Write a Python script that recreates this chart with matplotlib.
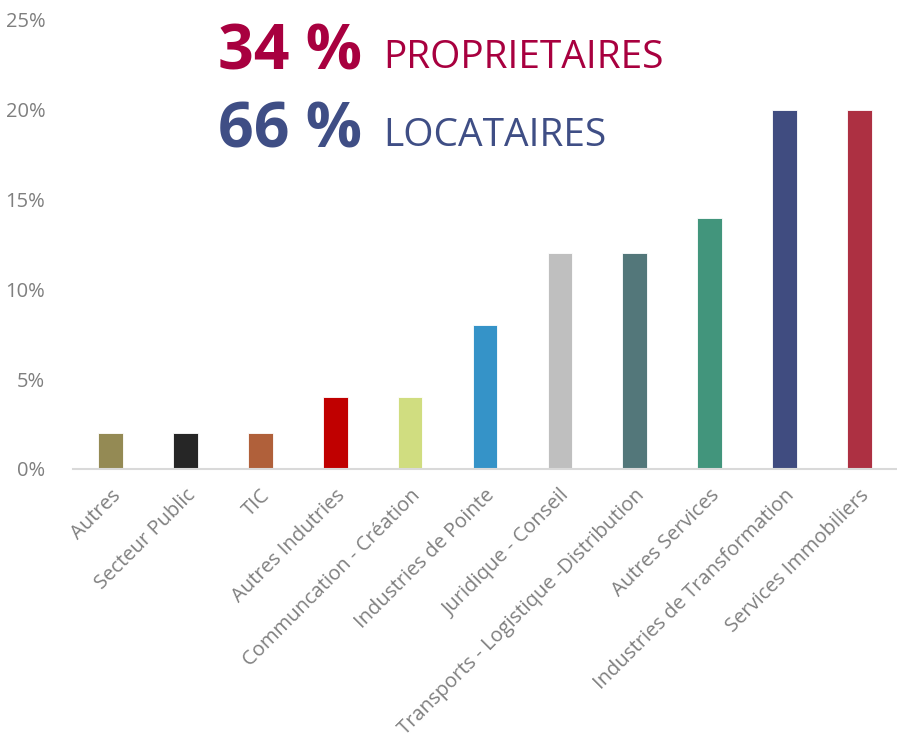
import matplotlib
matplotlib.use("Agg")
import matplotlib.pyplot as plt
from matplotlib.ticker import FuncFormatter, MultipleLocator

categories = ["Autres", "Secteur Public", "TIC", "Autres Indutries",
              "Communcation - Création", "Industries de Pointe",
              "Juridique - Conseil", "Transports - Logistique -Distribution",
              "Autres Services", "Industries de Transformation",
              "Services Immobiliers"]
values = [0.02, 0.02, 0.02, 0.04, 0.04, 0.08, 0.12, 0.12, 0.14, 0.20, 0.20]
colors = ["#948A54", "#262626", "#B0603A", "#C00000", "#D0DD80", "#3593C8",
          "#BFBFBF", "#53777A", "#42957C", "#404C80", "#AD3042"]

plt.rcParams['font.family'] = ['Open Sans', 'DejaVu Sans']

fig = plt.figure(figsize=(8.97, 7.49), dpi=100)
ax = fig.add_axes([73/897, 1 - 469/749, (897 - 73)/897, (469 - 20)/749])

x = list(range(len(categories)))
ax.bar(x, values, width=0.33, color=colors, edgecolor="white", linewidth=0.6)
ax.set_xlim(-0.5, len(categories) - 0.5)
ax.set_ylim(0, 0.25)
ax.yaxis.set_major_locator(MultipleLocator(0.05))
ax.yaxis.set_major_formatter(FuncFormatter(lambda v, p: f"{v*100:.0f}%"))
for s in ["top", "right", "left"]:
    ax.spines[s].set_visible(False)
ax.spines["bottom"].set_color("#D9D9D9")
ax.spines["bottom"].set_linewidth(1.5)
ax.tick_params(axis="y", length=0, colors="#7F7F7F", labelsize=14.5, pad=20)
ax.tick_params(axis="x", length=0, colors="#7F7F7F", labelsize=14.5, pad=12)
ax.set_xticks(x)
ax.set_xticklabels(categories, rotation=45, ha="right", rotation_mode="anchor")
for lab in ax.get_yticklabels():
    lab.set_horizontalalignment("right")

red = "#A8003F"
blue = "#3F4E85"
fig.text(218/897, 1 - 70/749, "34 %", color=red, fontsize=45, fontweight="bold",
         va="baseline", ha="left")
fig.text(383/897, 1 - 68/749, "PROPRIETAIRES", color=red, fontsize=28,
         va="baseline", ha="left")
fig.text(218/897, 1 - 148/749, "66 %", color=blue, fontsize=45, fontweight="bold",
         va="baseline", ha="left")
fig.text(383/897, 1 - 146/749, "LOCATAIRES", color=blue, fontsize=28,
         va="baseline", ha="left")

fig.savefig("out.png", dpi=100)
